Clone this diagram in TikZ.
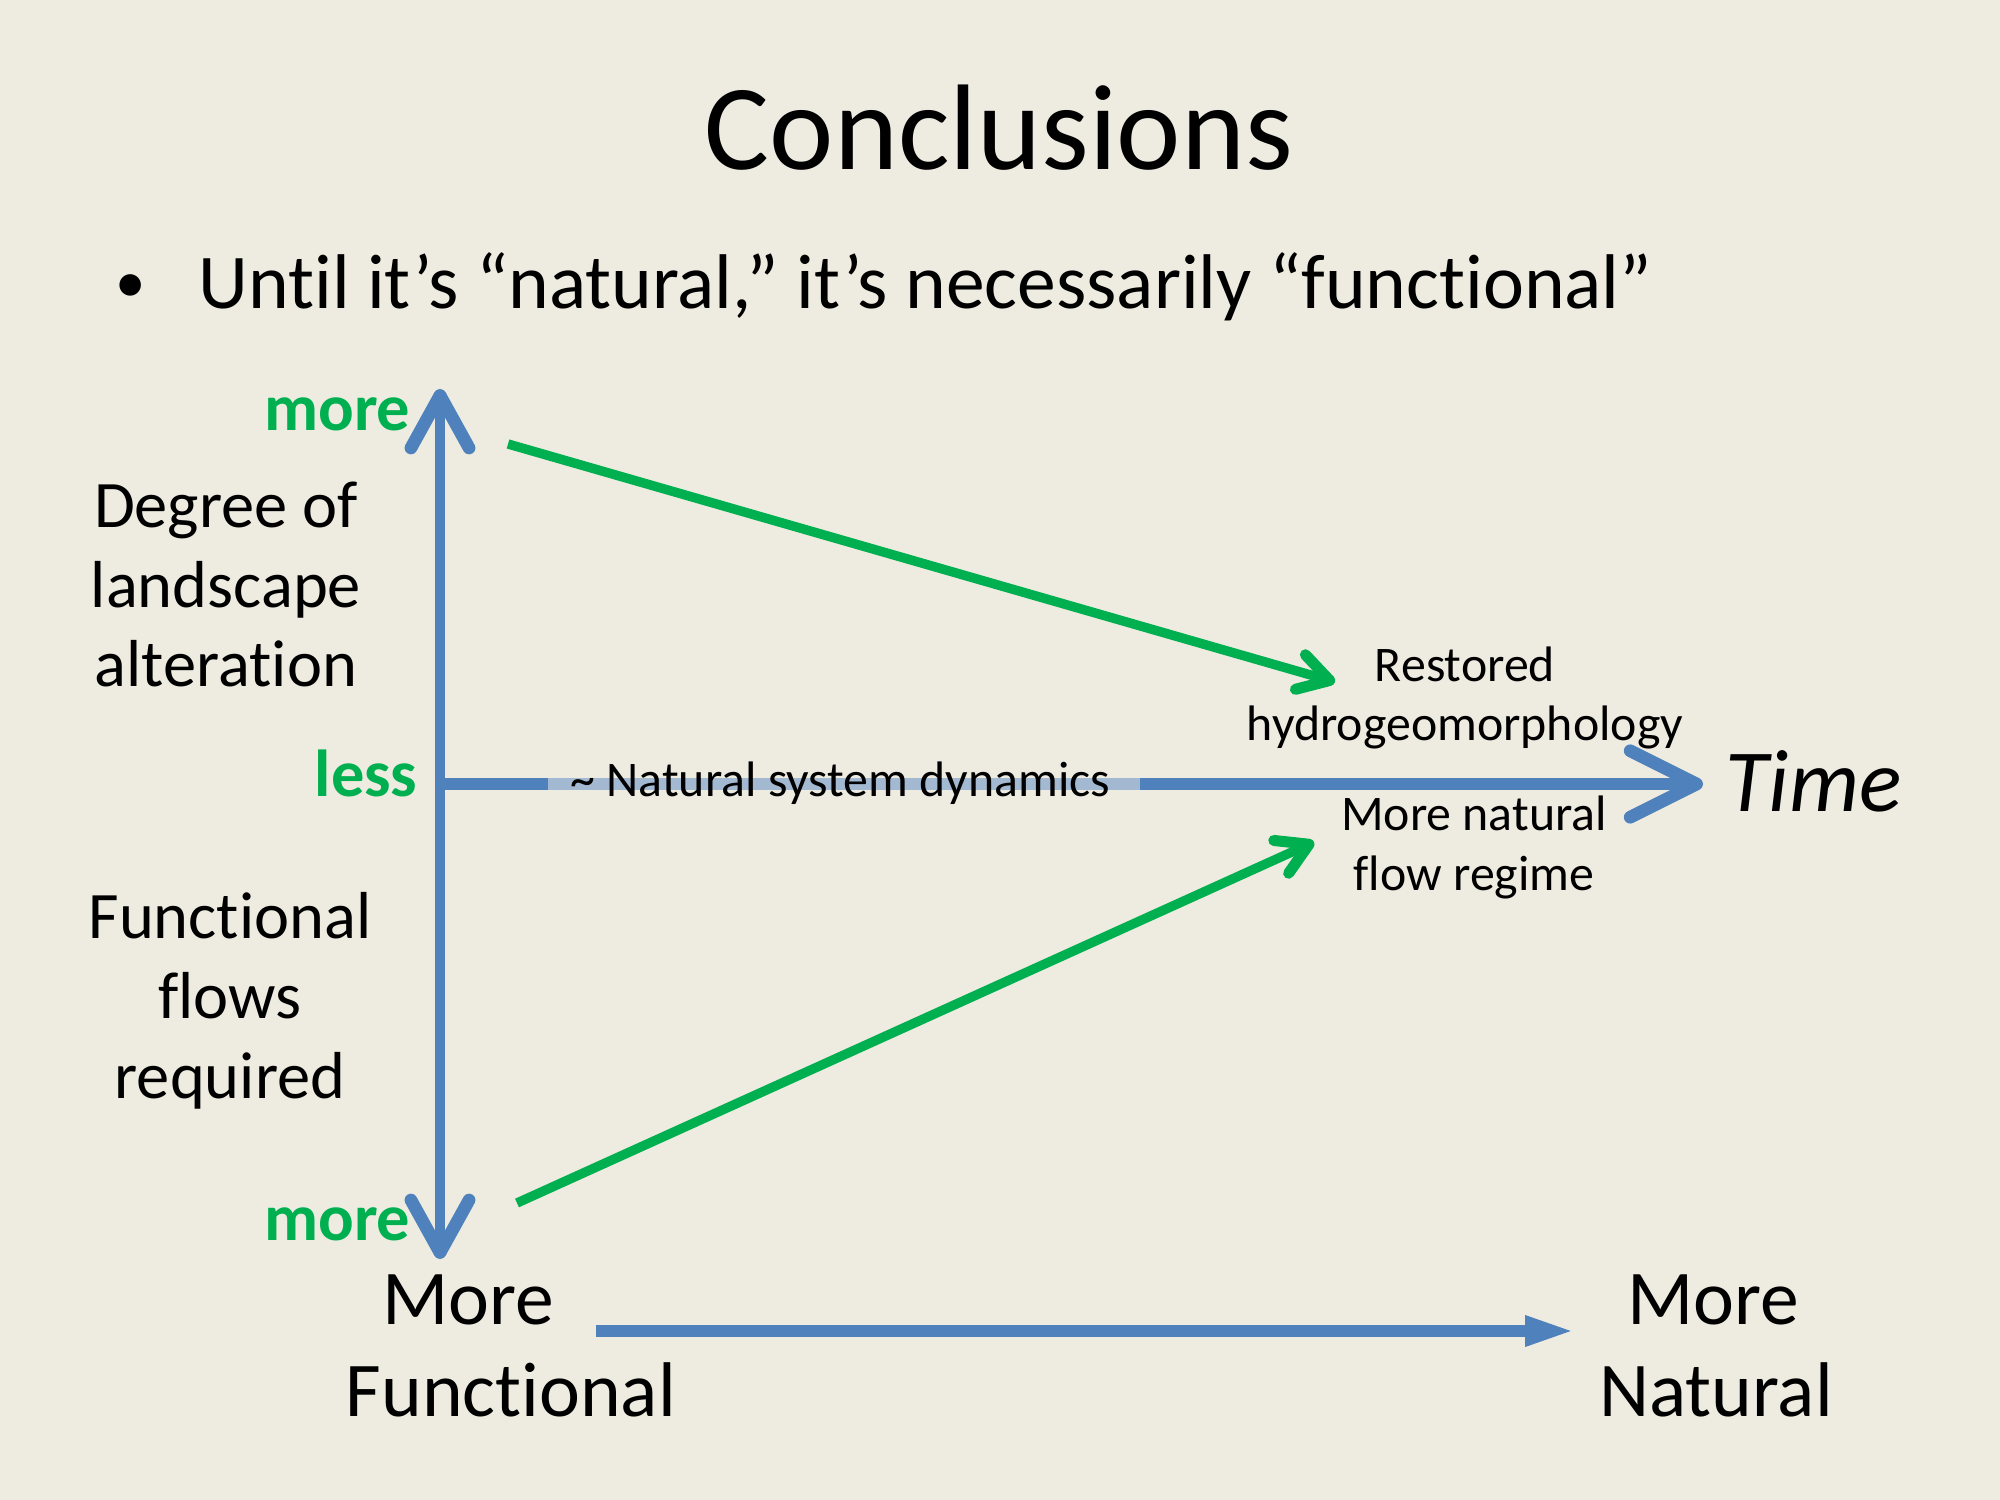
\documentclass[tikz,border=0pt]{standalone}
\usepackage{fontspec}
\setmainfont{Carlito}[Ligatures=NoCommon]
\usetikzlibrary{arrows.meta}
\definecolor{bgc}{HTML}{EEECE1}
\definecolor{axblue}{HTML}{4F81BD}
\definecolor{lightax}{HTML}{A3B9D2}
\definecolor{grn}{HTML}{00B050}
\tikzset{
  lbl/.style={inner sep=0pt, text=black},
  glbl/.style={inner sep=0pt, text=grn, font=\fontsize{24}{28.8}\selectfont\bfseries},
  axis/.style={draw=axblue, line width=3.6pt},
  timeaxis/.style={draw=axblue, line width=4.6pt},
  barbtip/.tip={Straight Barb[length=19pt, width=21pt, line width=4.6pt, round]},
  timetip/.tip={Straight Barb[length=24pt, width=24pt, line width=4.6pt, round]},
  gtip/.tip={Straight Barb[length=11pt, width=13pt, line width=4pt, round]},
  garrow/.style={draw=grn, line width=3.4pt},
}
\begin{document}
\begin{tikzpicture}[x=0.0127cm, y=-0.0127cm]
\useasboundingbox[fill=bgc] (0,0) rectangle (2000,1500);

% title and bullet
\node[lbl, anchor=base, font=\fontsize{44}{52}\selectfont] (title) at (999,170) {Conclusions};
\node[lbl, anchor=base, font=\fontsize{22}{26}\selectfont] (bullet) at (131,303) {•};
\node[lbl, anchor=base west, font=\fontsize{28}{34}\selectfont] (subtitle) at (198,309) {Until it’s “natural,” it’s necessarily “functional”};

% axis end coordinates
\coordinate (vtop) at (440,389);
\coordinate (vbot) at (440,1259);
\coordinate (origin) at (440,784);
\coordinate (tend) at (1703,784);

% axes
\draw[axis, barbtip-barbtip] (vtop) -- (vbot);
\draw[timeaxis, -timetip] (origin) -- (tend);
\fill[lightax] (548,778) rectangle (1140,790);

% left labels
\node[lbl, align=center, anchor=base, font=\fontsize{24}{28.8}\selectfont] (degree) at (226,687) {Degree of\\landscape\\alteration};
\node[lbl, align=center, anchor=base, font=\fontsize{24}{28.8}\selectfont] (funcflows) at (230,1098) {Functional\\flows\\required};

% green axis labels
\node[glbl, anchor=base east] (moretop) at (411,431) {more};
\node[glbl, anchor=base east] (less) at (418,796) {less};
\node[glbl, anchor=base east] (morebot) at (411,1240) {more};

% middle label
\node[lbl, anchor=base west, font=\fontsize{18}{21.6}\selectfont] (natdyn) at (570,796) {\char"007E\ Natural system dynamics};

% right labels
\node[lbl, align=center, anchor=base, font=\fontsize{18}{21.6}\selectfont] (restored) at (1465,741) {Restored\\hydrogeomorphology};
\node[lbl, align=center, anchor=base, font=\fontsize{18}{21.6}\selectfont] (morenat) at (1474,890) {More natural\\flow regime};
\node[lbl, anchor=base west, font=\fontsize{32}{38}\selectfont\itshape] (time) at (1725,812) {Time};

% green arrows
\coordinate (gs1) at (508,444);
\coordinate (ge1) at (1335,682);
\coordinate (gs2) at (517,1203);
\coordinate (ge2) at (1314,842);
\draw[garrow, -gtip] (gs1) -- (ge1);
\draw[garrow, -gtip] (gs2) -- (ge2);

% bottom labels
\node[lbl, anchor=base, font=\fontsize{28}{33.6}\selectfont] (mf1) at (468,1324) {More};
\node[lbl, anchor=base, font=\fontsize{28}{33.6}\selectfont] (mf2) at (511,1416) {Functional};
\node[lbl, anchor=base, font=\fontsize{28}{33.6}\selectfont] (mn1) at (1713,1324) {More};
\node[lbl, anchor=base, font=\fontsize{28}{33.6}\selectfont] (mn2) at (1716,1416) {Natural};

\coordinate (bstart) at (596,1331);
\coordinate (bend) at (1575,1331);
\draw[draw=axblue, line width=4.3pt, -{Triangle[length=18pt, width=10pt]}] (bstart) -- (bend);
\end{tikzpicture}
\end{document}
